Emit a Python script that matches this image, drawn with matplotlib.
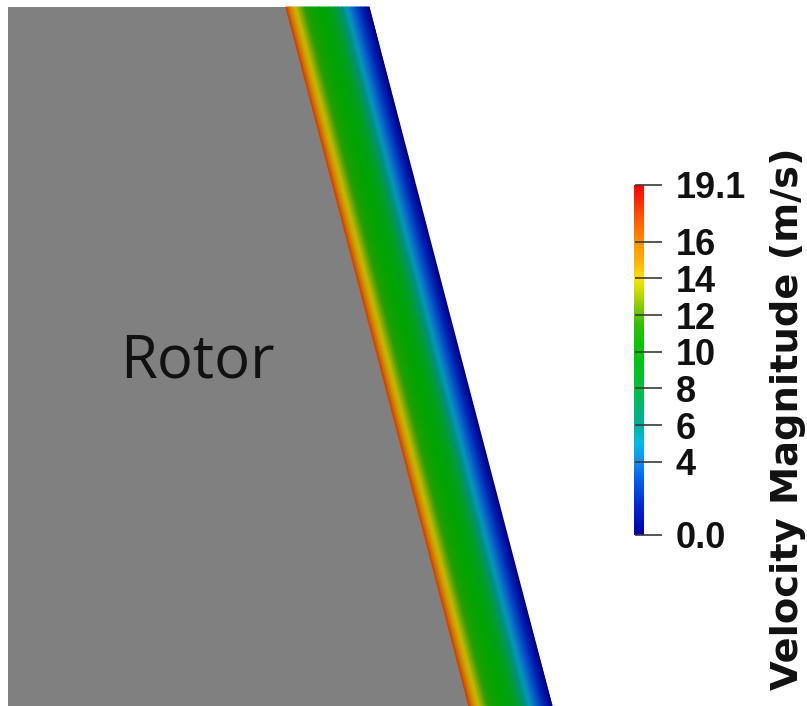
import matplotlib
matplotlib.use("Agg")
import matplotlib.pyplot as plt
import numpy as np
from matplotlib.colors import LinearSegmentedColormap, to_rgb
from matplotlib.patches import Polygon

# --- data ---
# velocity profile across the gap: 0 = rotor wall, 1 = outer wall
gap_pos = [0.00, 0.03, 0.06, 0.09, 0.12, 0.15, 0.19, 0.23, 0.28, 0.40, 0.52,
           0.58, 0.63, 0.68, 0.73, 0.78, 0.84, 0.90, 0.95, 1.00]
gap_vel = [17.6, 16.4, 15.2, 14.4, 13.8, 13.1, 12.3, 11.5, 10.8, 10.0, 9.2,
           8.3, 7.2, 6.0, 5.0, 4.0, 3.0, 1.8, 0.9, 0.0]

vmin, vmax = 0.0, 19.1
tick_vals = [0.0, 4, 6, 8, 10, 12, 14, 16, 19.1]
tick_text = ["0.0", "4", "6", "8", "10", "12", "14", "16", "19.1"]
bar_title = "Velocity Magnitude (m/s)"
body_label = "Rotor"

# geometry of the view (picture units, y downwards)
rotor_left = 8
view_top, view_bottom = 7, 706
wall_top_x, wall_bottom_x = 286, 469
gap_width = 83

# colour map nodes
cmap_vals = [0.0, 1.5, 3.0, 4.0, 5.0, 6.0, 7.0, 8.0, 10.0, 11.5, 12.5,
             13.5, 14.0, 15.0, 16.0, 17.5, 19.1]
cmap_cols = ["#0000a8", "#0024d8", "#0060f0", "#1490f0", "#00bce6", "#00b09c",
             "#00b870", "#00c040", "#00c800", "#30c000", "#86cc00",
             "#d8e000", "#ffe000", "#ffb000", "#ff9000", "#ff5000", "#ff0000"]

nodes = [(v - vmin) / (vmax - vmin) for v in cmap_vals]
cmap = LinearSegmentedColormap.from_list("vel", list(zip(nodes, cmap_cols)))
# the band in the render is lit, so a bit darker than the bar
shade = 0.82
band_cols = [tuple(c * shade for c in to_rgb(col)) for col in cmap_cols]
band_cmap = LinearSegmentedColormap.from_list("vel_band", list(zip(nodes, band_cols)))

px = 0.72  # points per pixel at dpi 100

W, H = 807, 706
fig = plt.figure(figsize=(W / 100, H / 100), dpi=100)
ax = fig.add_axes([0, 0, 1, 1])
ax.set_xlim(0, W)
ax.set_ylim(H, 0)
ax.axis("off")

# rotor body
rotor = Polygon([(rotor_left, view_top), (wall_top_x, view_top),
                 (wall_bottom_x, view_bottom), (rotor_left, view_bottom)],
                closed=True, facecolor="#808080", edgecolor="none")
ax.add_patch(rotor)

# fluid gap coloured by velocity
s = np.array(gap_pos)
X = np.vstack([wall_top_x + s * gap_width, wall_bottom_x + s * gap_width])
Y = np.vstack([np.full_like(s, view_top), np.full_like(s, view_bottom)])
C = np.vstack([gap_vel, gap_vel])
ax.pcolormesh(X, Y, C, shading="gouraud", cmap=band_cmap, vmin=vmin, vmax=vmax)

ax.text(197, 361, body_label, fontsize=43, family="Open Sans",
        color="#111111", ha="center", va="center")

# colour bar
cax = fig.add_axes([634 / W, (H - 535) / H, 10 / W, 350 / H])
grad = np.linspace(vmin, vmax, 256).reshape(-1, 1)
cax.imshow(grad, aspect="auto", cmap=cmap, origin="lower",
           extent=[0, 1, vmin, vmax], vmin=vmin, vmax=vmax)
cax.set_xlim(0, 1)
cax.set_ylim(vmin, vmax)
cax.set_xticks([])
for sp in cax.spines.values():
    sp.set_visible(False)
cax.yaxis.tick_right()
cax.set_yticks(tick_vals)
cax.set_yticklabels(tick_text, family="Liberation Sans", fontweight="bold",
                    fontsize=26, color="#111111")
cax.tick_params(axis="y", length=0, pad=32 * px)
cax.hlines(tick_vals, 0.1, 2.8, colors="#3a3a3a", linewidth=1.2,
           transform=cax.get_yaxis_transform(), clip_on=False)

fig.text(798 / W, (H - 419) / H, bar_title, rotation=90, rotation_mode="anchor",
         ha="center", va="baseline", fontsize=27.6, fontweight="bold",
         family="DejaVu Sans", color="#111111")

fig.savefig("out.png", dpi=100, facecolor="white")
